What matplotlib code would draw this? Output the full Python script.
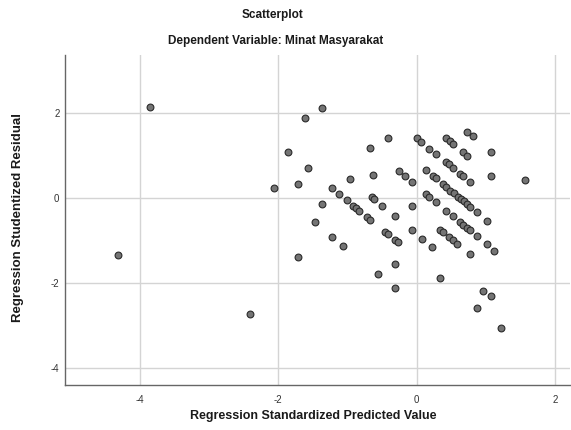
import matplotlib
matplotlib.use("Agg")
import matplotlib.pyplot as plt
import numpy as np

plt.rcParams["axes.unicode_minus"] = False

# Data
predicted = [
    -4.316, -3.854, -2.413, -2.062, -1.860, -1.720, -1.720, -1.614, -1.571, -1.465,
    -1.364, -1.368, -1.224, -1.224, -1.120, -1.061, -1.014, -0.957, -0.916, -0.877,
    -0.834, -0.723, -0.675, -0.671, -0.627, -0.649, -0.620, -0.506, -0.422, -0.465,
    -0.422, -0.318, -0.318, -0.275, -0.318, -0.566, -0.318, -0.260, -0.173, -0.072,
    -0.072, -0.072, 0.009, 0.066, 0.173, 0.276, 0.130, 0.236, 0.279, 0.130,
    0.173, 0.276, 0.072, 0.217, 0.419, 0.477, 0.522, 0.419, 0.467, 0.522,
    0.380, 0.428, 0.486, 0.535, 0.597, 0.645, 0.681, 0.731, 0.775, 0.419,
    0.525, 0.626, 0.676, 0.724, 0.773, 0.337, 0.380, 0.467, 0.525, 0.582,
    0.770, 0.337, 0.727, 0.809, 0.665, 0.723, 0.626, 0.673, 0.770, 0.871,
    1.016, 0.871, 1.016, 1.117, 1.074, 1.074, 1.569, 0.954, 1.074, 0.871,
    1.218,
]
residual = [
    -1.327, 2.155, -2.722, 0.235, 1.096, 0.336, -1.374, 1.896, 0.706, -0.565,
    2.125, -0.139, 0.231, -0.899, 0.094, -1.122, -0.040, 0.447, -0.181, -0.235,
    -0.299, -0.435, -0.499, 1.176, 0.555, 0.026, -0.016, -0.174, 1.412, -0.793,
    -0.845, -0.416, -0.981, -1.035, -1.546, -1.781, -2.115, 0.642, 0.518, 0.384,
    -0.181, -0.746, 1.419, 1.325, 1.167, 1.042, 0.673, 0.532, 0.473, 0.096,
    0.042, -0.094, -0.946, -1.151, 1.412, 1.341, 1.282, 0.849, 0.800, 0.713,
    0.332, 0.266, 0.179, 0.118, 0.031, -0.024, -0.071, -0.134, -0.193, -0.292,
    -0.421, -0.562, -0.624, -0.687, -0.746, -0.739, -0.798, -0.915, -0.981, -1.068,
    -1.315, -1.882, 1.567, 1.461, 1.085, 0.995, 0.576, 0.518, 0.384, -0.329,
    -0.527, -0.894, -1.082, -1.233, 1.089, 0.525, 0.431, -2.174, -2.304, -2.588,
    -3.059,
]
x_ticks = [-4, -2, 0, 2]
y_ticks = [-4, -2, 0, 2]
title_main = "Scatterplot"
title_sub = "Dependent Variable: Minat Masyarakat"
x_label = "Regression Standardized Predicted Value"
y_label = "Regression Studentized Residual"

W, H = 571, 430
fig = plt.figure(figsize=(W / 100, H / 100), dpi=100)
fig.patch.set_facecolor("white")

narrow = ["Liberation Sans Narrow", "Liberation Sans", "DejaVu Sans"]
regular = ["Liberation Sans", "DejaVu Sans"]

ax = fig.add_axes([65 / W, 1 - 385 / H, (570 - 65) / W, (385 - 55) / H])
ax.set_xlim(-5.082, 2.215)
ax.set_ylim(-4.393, 3.372)

ax.set_xticks(x_ticks)
ax.set_yticks(y_ticks)
ax.grid(True, color="#d4d4d4", linewidth=1.0, zorder=0)
ax.set_axisbelow(True)
ax.tick_params(axis="x", length=0, labelsize=7, colors="#333333", pad=7)
ax.tick_params(axis="y", length=0, labelsize=7, colors="#333333", pad=4)
for lab in ax.get_xticklabels() + ax.get_yticklabels():
    lab.set_family(narrow)

for side in ["top", "right"]:
    ax.spines[side].set_visible(False)
for side in ["left", "bottom"]:
    ax.spines[side].set_color("#666666")
    ax.spines[side].set_linewidth(1.0)

ax.scatter(predicted, residual, s=24, facecolor="#747474", edgecolor="#2a2a2a",
           linewidth=0.8, zorder=3)

common = dict(ha="center", va="center", fontweight="bold", color="#1a1a1a",
              family=narrow)
fig.text(272 / W, 1 - 15 / H, title_main, fontsize=8.5, **common)
fig.text(276 / W, 1 - 41 / H, title_sub, fontsize=8.5, **common)
fig.text(313 / W, 1 - 416 / H, x_label, fontsize=9, **common)
fig.text(18 / W, 1 - 218 / H, y_label, ha="center", va="center", rotation=90,
         fontsize=9.5, fontweight="bold", family=regular, color="#1a1a1a")

fig.savefig("out.png", dpi=100, facecolor="white")
